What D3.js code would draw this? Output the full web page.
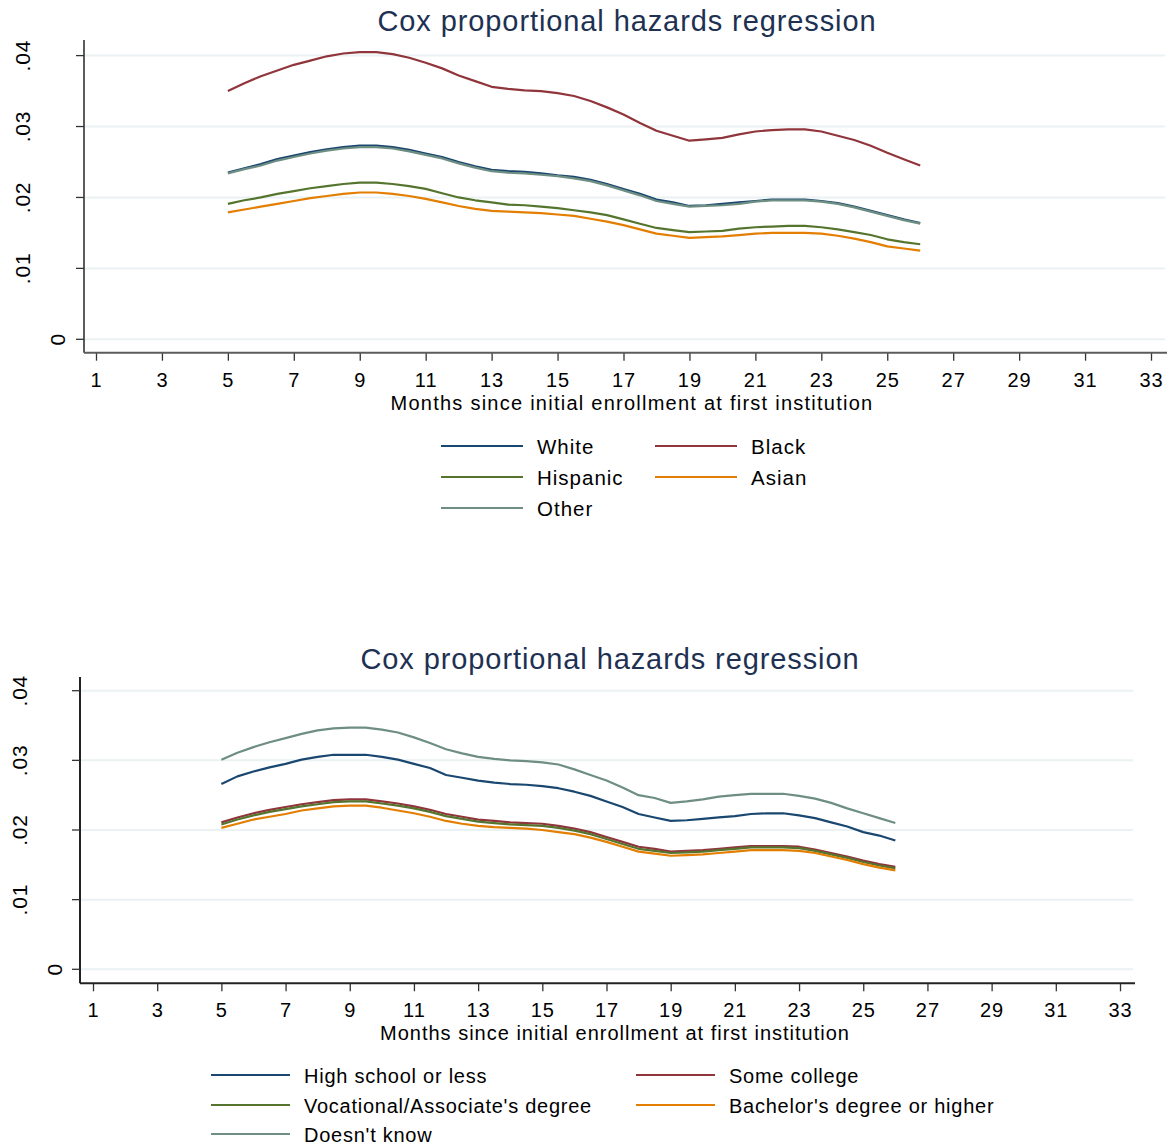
<!DOCTYPE html>
<html>
<head>
<meta charset="utf-8">
<script src="https://cdn.jsdelivr.net/npm/d3@7/dist/d3.min.js"></script>
<style>
  body { margin: 0; background: #fff; }
  svg { display: block; font-family: "Liberation Sans", Arial, sans-serif; }
</style>
</head>
<body>
<svg id="chart" width="1175" height="1147"></svg>
<script>
// ---------- DATA ----------
const chartTitle = "Cox proportional hazards regression";
const xAxisTitle = "Months since initial enrollment at first institution";
const xTicks = [1, 3, 5, 7, 9, 11, 13, 15, 17, 19, 21, 23, 25, 27, 29, 31, 33];
const yTicks = [0, 0.01, 0.02, 0.03, 0.04];
const yTickLabels = ["0", ".01", ".02", ".03", ".04"];
const months = [5, 5.5, 6, 6.5, 7, 7.5, 8, 8.5, 9, 9.5, 10, 10.5, 11, 11.5, 12, 12.5, 13, 13.5, 14, 14.5, 15, 15.5, 16, 16.5, 17, 17.5, 18, 18.5, 19, 19.5, 20, 20.5, 21, 21.5, 22, 22.5, 23, 23.5, 24, 24.5, 25, 25.5, 26];

// Panel 1: race/ethnicity
const raceNames = ["White", "Black", "Hispanic", "Asian", "Other"];
const white = [.0235,.0241,.0247,.0254,.0259,.0264,.0268,.0271,.0273,.0273,.0271,.0267,.0262,.0257,.0250,.0244,.0239,.0237,.0236,.0234,.0231,.0229,.0225,.0219,.0212,.0205,.0197,.0193,.0188,.0189,.0191,.0193,.0195,.0197,.0197,.0197,.0195,.0192,.0187,.0181,.0175,.0169,.0164];
const black = [.0350,.0361,.0371,.0379,.0387,.0393,.0399,.0403,.0405,.0405,.0402,.0397,.0390,.0382,.0372,.0364,.0356,.0353,.0351,.0350,.0347,.0343,.0336,.0327,.0317,.0305,.0294,.0287,.0280,.0282,.0284,.0289,.0293,.0295,.0296,.0296,.0293,.0287,.0281,.0273,.0263,.0254,.0245];
const hispanic = [.0191,.0196,.0200,.0205,.0209,.0213,.0216,.0219,.0221,.0221,.0219,.0216,.0212,.0206,.0200,.0196,.0193,.0190,.0189,.0187,.0185,.0182,.0179,.0175,.0169,.0163,.0157,.0154,.0151,.0152,.0153,.0156,.0158,.0159,.0160,.0160,.0158,.0155,.0151,.0147,.0141,.0137,.0134];
const asian = [.0179,.0183,.0187,.0191,.0195,.0199,.0202,.0205,.0207,.0207,.0205,.0202,.0198,.0193,.0188,.0184,.0181,.0180,.0179,.0178,.0176,.0174,.0170,.0166,.0161,.0155,.0149,.0146,.0143,.0144,.0145,.0147,.0149,.0150,.0150,.0150,.0149,.0146,.0142,.0137,.0131,.0128,.0125];
const other = [.0234,.0240,.0245,.0252,.0257,.0262,.0266,.0269,.0271,.0271,.0269,.0265,.0260,.0255,.0248,.0242,.0237,.0235,.0234,.0232,.0230,.0227,.0223,.0217,.0210,.0203,.0195,.0191,.0187,.0188,.0189,.0191,.0194,.0196,.0196,.0196,.0194,.0191,.0186,.0180,.0174,.0168,.0163];

// Panel 2: parental education
const eduNames = ["High school or less", "Some college", "Vocational/Associate's degree", "Bachelor's degree or higher", "Doesn't know"];
const highSchool = [.0266,.0277,.0284,.0290,.0295,.0301,.0305,.0308,.0308,.0308,.0305,.0301,.0295,.0289,.0279,.0275,.0271,.0268,.0266,.0265,.0263,.0260,.0255,.0249,.0241,.0233,.0223,.0218,.0213,.0214,.0216,.0218,.0220,.0223,.0224,.0224,.0221,.0217,.0211,.0205,.0197,.0192,.0185];
const someCollege = [.0211,.0218,.0224,.0229,.0233,.0237,.0240,.0243,.0244,.0244,.0241,.0238,.0234,.0229,.0223,.0219,.0215,.0213,.0211,.0210,.0209,.0206,.0202,.0197,.0190,.0183,.0176,.0173,.0169,.0170,.0171,.0173,.0175,.0177,.0177,.0177,.0176,.0172,.0167,.0162,.0156,.0151,.0147];
const vocational = [.0208,.0215,.0221,.0226,.0230,.0234,.0237,.0240,.0241,.0241,.0238,.0235,.0231,.0226,.0220,.0216,.0212,.0210,.0208,.0207,.0206,.0203,.0199,.0194,.0187,.0180,.0173,.0170,.0167,.0168,.0169,.0171,.0173,.0175,.0175,.0175,.0174,.0170,.0165,.0160,.0154,.0149,.0145];
const bachelors = [.0203,.0209,.0215,.0219,.0223,.0228,.0231,.0234,.0235,.0235,.0232,.0228,.0224,.0219,.0213,.0209,.0206,.0204,.0203,.0202,.0200,.0197,.0194,.0189,.0183,.0176,.0169,.0166,.0163,.0164,.0165,.0167,.0169,.0171,.0171,.0171,.0170,.0167,.0162,.0157,.0151,.0146,.0142];
const doesntKnow = [.0301,.0311,.0319,.0326,.0332,.0338,.0343,.0346,.0347,.0347,.0344,.0340,.0333,.0325,.0316,.0310,.0305,.0302,.0300,.0299,.0297,.0294,.0287,.0279,.0271,.0261,.0250,.0246,.0239,.0241,.0244,.0248,.0250,.0252,.0252,.0252,.0249,.0245,.0239,.0231,.0224,.0217,.0210];

const seriesColors = ["#1a476f", "#90353b", "#55752f", "#e37e00", "#6e8e84"];

// ---------- DRAWING ----------
const svg = d3.select("#chart");

function panel(cfg) {
  const g = svg.append("g");
  const x = d3.scaleLinear().domain([1, 33]).range([cfg.x1, cfg.x33]);
  const y = d3.scaleLinear().domain([0, 0.04]).range([cfg.y0, cfg.y04]);

  // gridlines
  g.append("g").selectAll("line").data(yTicks).join("line")
    .attr("x1", cfg.axisX + 1).attr("x2", cfg.right - 2)
    .attr("y1", d => y(d)).attr("y2", d => y(d))
    .attr("stroke", "#eaf2f3").attr("stroke-width", 2);

  // title
  g.append("text").attr("x", cfg.titleX).attr("y", cfg.titleY)
    .attr("text-anchor", "middle").attr("font-size", 29).attr("letter-spacing", "0.9px")
    .attr("fill", "#1e3152").text(chartTitle);

  // x axis
  const xAxis = d3.axisBottom(x).tickValues(xTicks).tickSize(8).tickPadding(12).tickFormat(d3.format("d"));
  const xg = g.append("g").attr("transform", `translate(0,${cfg.axisY})`).call(xAxis);
  xg.select(".domain").remove();
  xg.selectAll(".tick line").attr("stroke", "#333").attr("stroke-width", 1.3);
  xg.selectAll(".tick text").attr("font-size", 20).attr("font-family", "Liberation Sans, Arial, sans-serif")
    .attr("fill", "#000").attr("letter-spacing", "1px").attr("dy", "0.71em");
  g.append("line").attr("x1", cfg.axisX).attr("x2", cfg.right)
    .attr("y1", cfg.axisY).attr("y2", cfg.axisY).attr("stroke", cfg.axisColor).attr("stroke-width", 2);

  // x axis title
  g.append("text").attr("x", cfg.xTitleX).attr("y", cfg.axisY + 57)
    .attr("text-anchor", "middle").attr("font-size", 20).attr("letter-spacing", cfg.xTitleLS)
    .attr("fill", "#000").text(xAxisTitle);

  // y axis
  g.append("line").attr("x1", cfg.axisX).attr("x2", cfg.axisX)
    .attr("y1", cfg.axisTop).attr("y2", cfg.axisY).attr("stroke", cfg.axisColor).attr("stroke-width", 2);
  g.append("g").selectAll("line").data(yTicks).join("line")
    .attr("x1", cfg.axisX - 8).attr("x2", cfg.axisX)
    .attr("y1", d => y(d)).attr("y2", d => y(d))
    .attr("stroke", "#333").attr("stroke-width", 1.3);
  yTicks.forEach((t, i) => {
    const txt = g.append("text").attr("font-size", 21).attr("letter-spacing", "0.8px")
      .attr("text-anchor", "middle").attr("fill", "#000").text(yTickLabels[i]);
    const w = txt.node().getComputedTextLength();
    const bx = cfg.axisX + cfg.ylabOff - 1.79 * w;
    txt.attr("transform", `translate(${bx},${y(t)}) rotate(-90)`);
  });

  // lines
  const line = d3.line().x((d, i) => x(months[i])).y(d => y(d));
  g.append("g").selectAll("path").data(cfg.series).join("path")
    .attr("d", d => line(d)).attr("fill", "none")
    .attr("stroke", (d, i) => seriesColors[i]).attr("stroke-width", 2.2)
    .attr("stroke-linejoin", "round");

  // legend
  const lg = g.append("g");
  cfg.names.forEach((name, i) => {
    const col = i % 2, row = Math.floor(i / 2);
    const sx = cfg.legCols[col], cy = cfg.legRows[row];
    lg.append("line").attr("x1", sx).attr("x2", sx + cfg.legLen)
      .attr("y1", cy).attr("y2", cy).attr("stroke", seriesColors[i]).attr("stroke-width", 2.2);
    lg.append("text").attr("x", sx + cfg.legLen + 14).attr("y", cy + 7.5)
      .attr("font-size", cfg.legFont).attr("letter-spacing", cfg.legLS).attr("fill", "#000").text(name);
  });
}

panel({
  x1: 96, x33: 1151, y0: 339.3, y04: 55.6,
  axisX: 84, axisY: 352.7, axisTop: 40, right: 1167,
  axisColor: "#5c5c5c", ylabOff: 3,
  titleX: 627, titleY: 31, xTitleX: 632, xTitleLS: "1.25px",
  series: [white, black, hispanic, asian, other], names: raceNames,
  legCols: [441, 655], legRows: [446, 477, 508], legLen: 82, legFont: 20.5, legLS: "1px"
});

panel({
  x1: 93, x33: 1120, y0: 969.3, y04: 690.7,
  axisX: 80, axisY: 983.3, axisTop: 677, right: 1135,
  axisColor: "#222", ylabOff: 4,
  titleX: 610, titleY: 669, xTitleX: 615, xTitleLS: "1.0px",
  series: [highSchool, someCollege, vocational, bachelors, doesntKnow], names: eduNames,
  legCols: [211, 636], legRows: [1075, 1105, 1134], legLen: 79, legFont: 20, legLS: "0.75px"
});
</script>
</body>
</html>
